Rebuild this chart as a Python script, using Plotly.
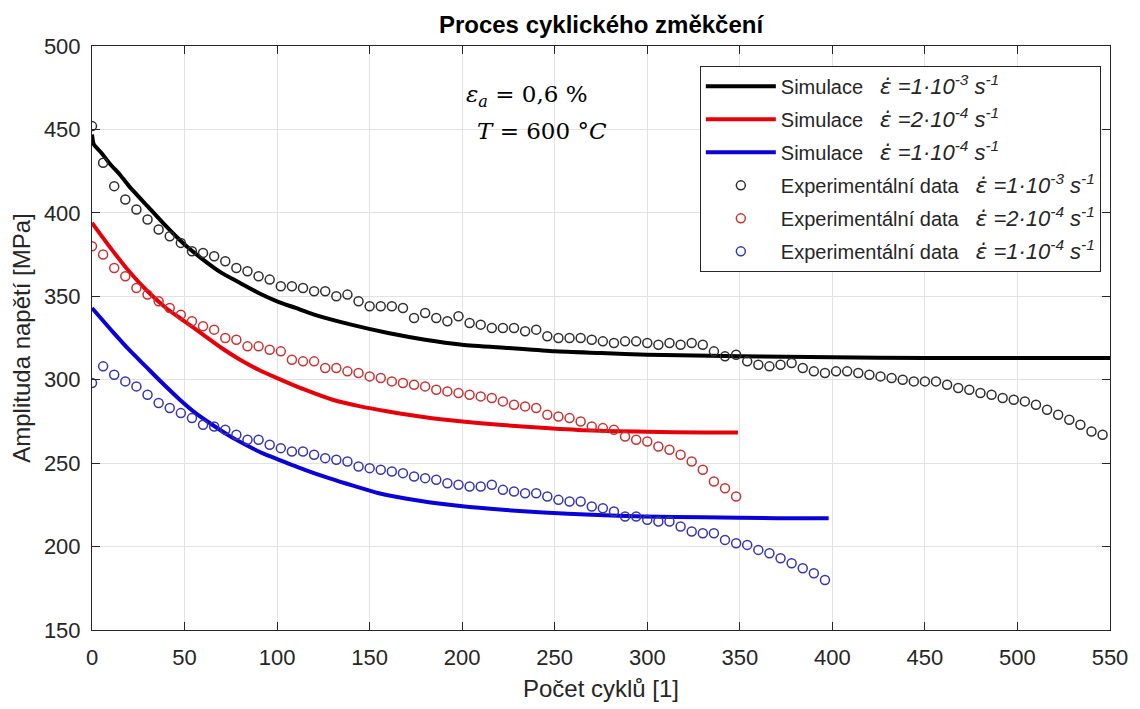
import plotly.graph_objects as go

# ---------------- data ----------------
sim_black_x = [0, 1, 5, 10, 15, 20, 30, 40, 50, 60, 70, 80, 90, 100, 110, 120, 140, 160, 180, 200,
               225, 250, 275, 300, 350, 400, 450, 500, 550]
sim_black_y = [447, 441, 436, 429, 423, 416, 404, 392, 381, 372, 364, 358, 352, 347, 343, 339, 333, 328,
               324, 321, 319, 317, 316, 315, 314, 313.5, 313, 313, 313]

sim_red_x = [0, 10, 20, 30, 40, 50, 60, 70, 80, 90, 100, 115, 130, 145, 160, 180, 200, 220, 245, 270,
             300, 330, 349]
sim_red_y = [394, 379, 365, 353, 343, 335, 327, 319, 312, 306, 301, 294, 288, 284, 281, 277.5, 275, 273,
             271, 269.5, 268.8, 268.4, 268.3]

sim_blue_x = [0, 11, 20, 29, 38, 47, 56, 65, 74, 83, 92, 101, 115, 128, 141, 155, 177, 199, 222, 244,
              270, 298, 330, 370, 398]
sim_blue_y = [343, 329, 318, 308, 298, 288.5, 280, 273, 266.5, 261, 256, 252, 246, 241, 236.5, 232,
              227.5, 224.3, 222, 220.4, 219, 218, 217.5, 217, 217]

exp_black_x = [0, 6, 12, 18, 24, 30, 36, 42, 48, 54, 60, 66, 72, 78, 84, 90, 96, 102, 108, 114, 120,
               126, 132, 138, 144, 150, 156, 162, 168, 174, 180, 186, 192, 198, 204, 210, 216, 222, 228,
               234, 240, 246, 252, 258, 264, 270, 276, 282, 288, 294, 300, 306, 312, 318, 324, 330, 336,
               342, 348, 354, 360, 366, 372, 378, 384, 390, 396, 402, 408, 414, 420, 426, 432, 438, 444,
               450, 456, 462, 468, 474, 480, 486, 492, 498, 504, 510, 516, 522, 528, 534, 540, 546]
exp_black_y = [452, 430, 416, 408, 402, 396, 390, 386, 382, 377, 376, 374, 371, 367, 365, 362, 360, 356,
               356, 355, 353, 353, 350, 351, 347, 344, 344, 344, 343, 337, 340, 337, 335, 338, 334, 333,
               331, 331, 331, 329, 330, 326, 325, 325, 325, 324, 323, 322, 323, 323, 322, 321, 322, 321,
               322, 321, 317, 314, 315, 311, 309, 308, 309, 310, 307, 305, 304, 305, 305, 304, 303, 302,
               301, 300, 299, 299, 299, 297, 295, 294, 292, 291, 289, 288, 287, 285, 282, 279, 276, 273,
               269, 267]

exp_red_x = [0, 6, 12, 18, 24, 30, 36, 42, 48, 54, 60, 66, 72, 78, 84, 90, 96, 102, 108, 114, 120, 126,
             132, 138, 144, 150, 156, 162, 168, 174, 180, 186, 192, 198, 204, 210, 216, 222, 228, 234,
             240, 246, 252, 258, 264, 270, 276, 282, 288, 294, 300, 306, 312, 318, 324, 330, 336, 342, 348]
exp_red_y = [380, 375, 367, 362, 355, 351, 347, 343, 339, 335, 332, 330, 325, 324, 320, 320, 318, 317,
             312, 311, 311, 307, 307, 305, 304, 302, 301, 299, 298, 297, 296, 294, 293, 292, 291, 290,
             289, 287, 285, 284, 283, 279, 278, 277, 275, 272, 271, 270, 266, 264, 263, 260, 258, 255,
             251, 246, 239, 235, 230]

exp_blue_x = [0, 6, 12, 18, 24, 30, 36, 42, 48, 54, 60, 66, 72, 78, 84, 90, 96, 102, 108, 114, 120, 126,
              132, 138, 144, 150, 156, 162, 168, 174, 180, 186, 192, 198, 204, 210, 216, 222, 228, 234,
              240, 246, 252, 258, 264, 270, 276, 282, 288, 294, 300, 306, 312, 318, 324, 330, 336, 342,
              348, 354, 360, 366, 372, 378, 384, 390, 396]
exp_blue_y = [298, 308, 303, 299, 296, 291, 286, 283, 280, 277, 273, 272, 270, 267, 264, 264, 261, 259,
              257, 257, 255, 253, 252, 251, 248, 247, 246, 245, 244, 242, 241, 240, 238, 237, 236, 236,
              237, 234, 233, 232, 232, 230, 228, 227, 227, 224, 223, 221, 218, 218, 216, 215, 215, 212,
              209, 208, 208, 204, 202, 201, 198, 196, 193, 190, 187, 184, 180]

x_ticks = [0, 50, 100, 150, 200, 250, 300, 350, 400, 450, 500, 550]
y_ticks = [150, 200, 250, 300, 350, 400, 450, 500]

NB = "\u00a0"
EPS = "<span style=\"font-family:'DejaVu Sans'\">ε̇</span>"


def rate(mant, exp):
    return ("<span style=\"font-size:22px\"><i>" + EPS + " =" + mant + "·10<sup>" + exp +
            "</sup> s<sup>-1</sup></i></span>")


rate1 = rate("1", "-3")
rate2 = rate("2", "-4")
rate3 = rate("1", "-4")
names = [
    "Simulace" + NB * 3 + rate1,
    "Simulace" + NB * 3 + rate2,
    "Simulace" + NB * 3 + rate3,
    "Experimentální data" + NB * 3 + rate1,
    "Experimentální data" + NB * 3 + rate2,
    "Experimentální data" + NB * 3 + rate3,
]

C_BLACK = "#000000"
C_RED = "#e6000a"
C_BLUE = "#0a00d8"
M_BLACK = "#2e2e2e"
M_RED = "#c83232"
M_BLUE = "#3535b0"

fig = go.Figure()

for i, (xs, ys, c) in enumerate([(sim_black_x, sim_black_y, C_BLACK),
                                  (sim_red_x, sim_red_y, C_RED),
                                  (sim_blue_x, sim_blue_y, C_BLUE)]):
    fig.add_trace(go.Scatter(x=xs, y=ys, mode="lines", name=names[i], legendgroup=f"g{i}",
                             line=dict(color=c, width=4, shape="spline", smoothing=0.6)))

for j, (xs, ys, c) in enumerate([(exp_black_x, exp_black_y, M_BLACK),
                                  (exp_red_x, exp_red_y, M_RED),
                                  (exp_blue_x, exp_blue_y, M_BLUE)]):
    fig.add_trace(go.Scatter(x=xs, y=ys, mode="markers", name=names[3 + j], legendgroup=f"g{3 + j}",
                             marker=dict(symbol="circle-open", size=9, color=c, line=dict(width=1.5, color=c))))

axis_common = dict(
    showgrid=True, gridcolor="#e2e2e2", gridwidth=1,
    showline=True, linecolor="#262626", linewidth=1, mirror="ticks",
    ticks="inside", ticklen=8, tickcolor="#262626", tickwidth=1,
    zeroline=False, tickfont=dict(size=22, color="#262626"),
)

fig.update_xaxes(range=[0, 550], tickvals=x_ticks, ticktext=[str(v) for v in x_ticks],
                 title=dict(text="Počet cyklů [1]", font=dict(size=24, color="#262626"), standoff=10),
                 ticklabelstandoff=8, **axis_common)
fig.update_yaxes(range=[150, 500], tickvals=y_ticks, ticktext=[str(v) for v in y_ticks],
                 title=dict(text="Amplituda napětí [MPa]", font=dict(size=24, color="#262626"), standoff=6),
                 ticklabelstandoff=6, **axis_common)

serif = "DejaVu Serif, Liberation Serif, serif"

fig.update_layout(
    width=1140, height=709,
    margin=dict(l=92, r=23, t=46, b=72),
    paper_bgcolor="white", plot_bgcolor="white",
    font=dict(family="Liberation Sans, Arial, sans-serif", color="#262626"),
    title=dict(text="<b>Proces cyklického změkčení</b>", x=0.5, xref="paper", xanchor="center",
               y=1 - 25 / 709, yref="container", yanchor="middle",
               font=dict(size=24, color="#000000")),
    legend=dict(x=0.991, y=0.966, xanchor="right", yanchor="top",
                bgcolor="white", bordercolor="#262626", borderwidth=1,
                font=dict(size=20, color="#262626"), itemwidth=70, tracegroupgap=4,
                traceorder="grouped"),
    showlegend=True,
    annotations=[
        dict(x=201, y=470, xref="x", yref="y", xanchor="left", yanchor="middle", showarrow=False,
             text="<i>ε</i><sub><i>a</i></sub>" + NB + "=" + NB + "0,6" + NB + "%",
             font=dict(family=serif, size=23, color="#000000")),
        dict(x=207, y=449, xref="x", yref="y", xanchor="left", yanchor="middle", showarrow=False,
             text="<i>T</i>" + NB + "=" + NB + "600" + NB + "°<i>C</i>",
             font=dict(family=serif, size=23, color="#000000")),
    ],
)

fig.write_html("out.html")
